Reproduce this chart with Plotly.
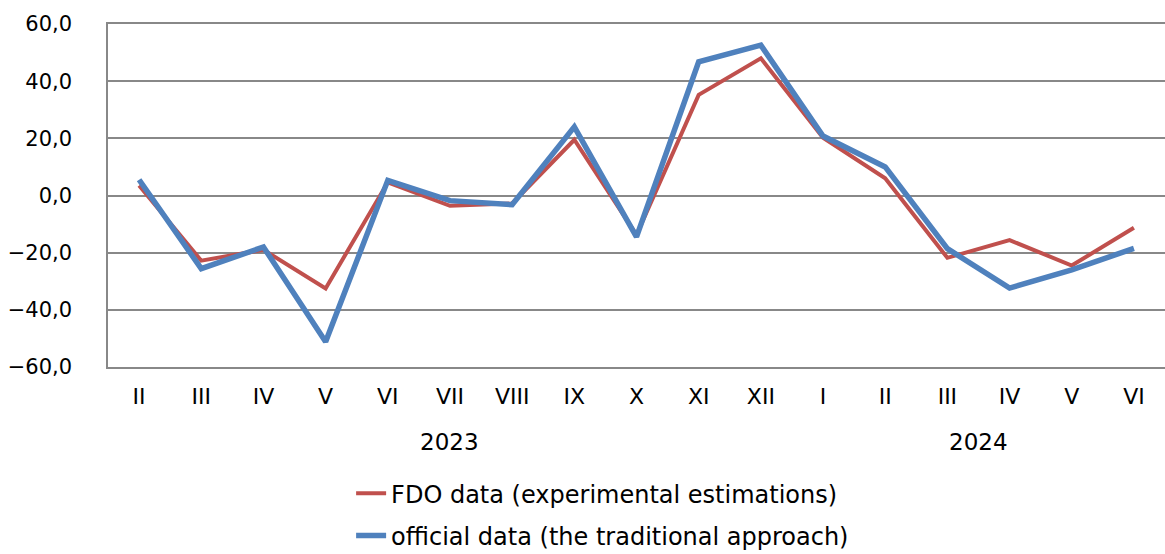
import plotly.graph_objects as go

months = ["II", "III", "IV", "V", "VI", "VII", "VIII", "IX", "X", "XI", "XII",
          "I", "II", "III", "IV", "V", "VI"]
years = ["2023", "2024"]
fdo = [3.5, -22.8, -19.0, -32.5, 4.6, -3.6, -2.8, 19.5, -13.8, 35.2, 48.0,
       20.2, 6.0, -21.8, -15.6, -24.5, -11.3]
official = [5.5, -25.6, -18.0, -51.2, 5.3, -1.8, -3.2, 24.0, -14.5, 46.8, 52.6,
            20.8, 10.0, -18.6, -32.4, -26.0, -18.5]
series_names = ["FDO data (experimental estimations)",
                "official data (the traditional approach)"]

x = list(range(len(months)))
FONT = "DejaVu Sans, Liberation Sans, Arial, sans-serif"

fig = go.Figure()
fig.add_trace(go.Scatter(x=x, y=fdo, mode="lines", name=series_names[0],
                         line=dict(color="#C0504D", width=4), legendgroup="a"))
fig.add_trace(go.Scatter(x=x, y=official, mode="lines", name=series_names[1],
                         line=dict(color="#4F81BD", width=5.5), legendgroup="b"))

# year labels centred under their month groups
for yr, xc in zip(years, [(0 + 10) / 2, (11 + 16) / 2]):
    fig.add_annotation(x=xc, y=-0.219, xref="x", yref="paper", text=yr,
                       showarrow=False, yanchor="middle", xanchor="center",
                       font=dict(family=FONT, size=23, color="#000"))

fig.update_layout(
    width=1165, height=554,
    margin=dict(l=108, r=0, t=24, b=187, autoexpand=False),
    paper_bgcolor="white", plot_bgcolor="white",
    separators=", ",
    font=dict(family=FONT, color="#000"),
    showlegend=True,
    legend=dict(orientation="v", x=0.23, xanchor="left", y=-0.304, yanchor="top",
                font=dict(family=FONT, size=24, color="#000"),
                tracegroupgap=8, bgcolor="rgba(0,0,0,0)"),
)
fig.update_xaxes(
    range=[-0.5, 16.5], tickmode="array", tickvals=x, ticktext=months,
    showgrid=False, zeroline=False, showline=True, linecolor="#888888",
    linewidth=1.5, mirror=True, ticks="", ticklabelstandoff=9, automargin=False,
    tickfont=dict(family=FONT, size=22, color="#000"),
)
fig.update_yaxes(
    range=[-60, 60], dtick=20, tick0=0, tickformat=".1f",
    showgrid=True, gridcolor="#888888", gridwidth=1.5,
    zeroline=False, showline=True, linecolor="#888888", linewidth=1.5,
    ticks="", ticklabelstandoff=30, automargin=False,
    tickfont=dict(family=FONT, size=21, color="#000"),
)

fig.write_html("out.html",
               config={"displayModeBar": False},
               post_script="document.body.style.margin='0';"
                           "document.body.style.overflow='hidden';")
